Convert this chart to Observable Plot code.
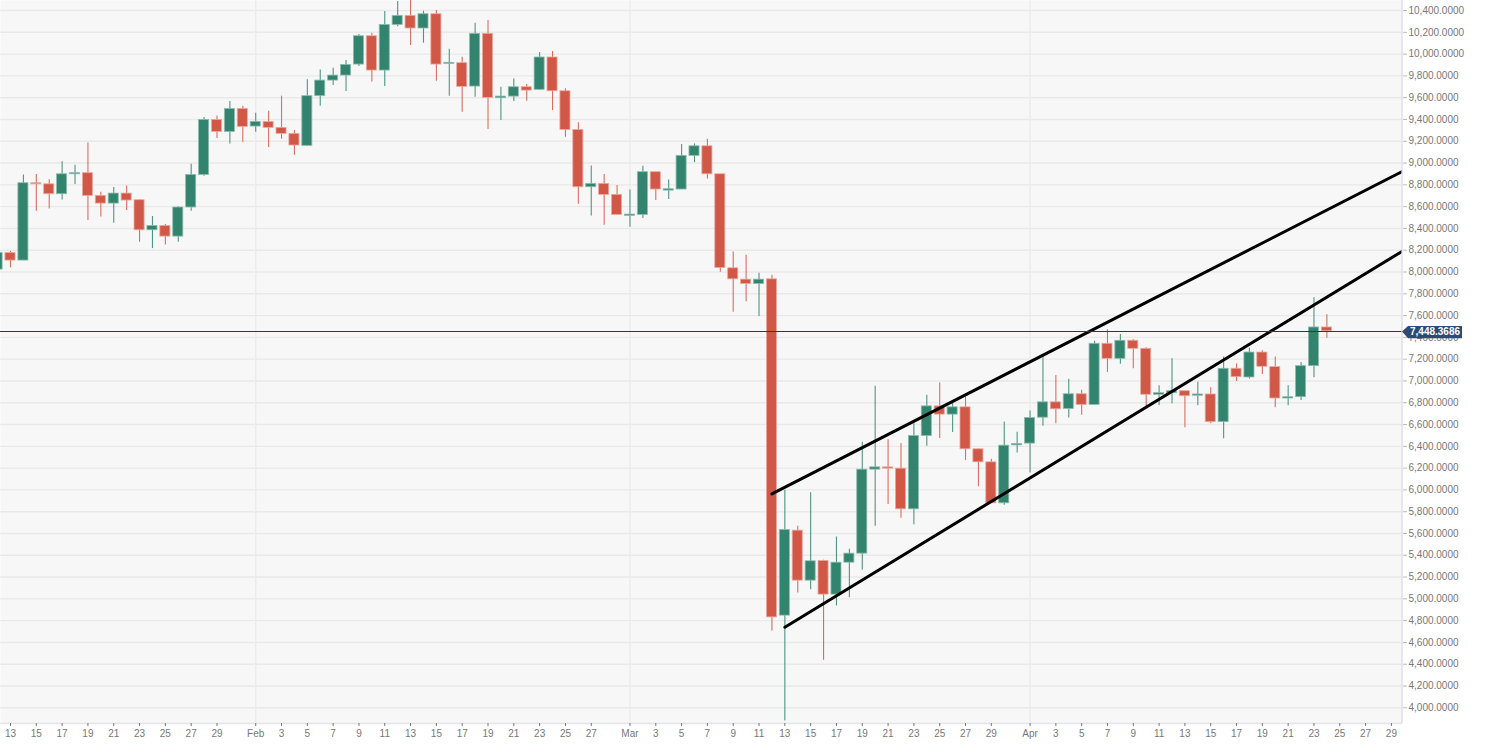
<!DOCTYPE html>
<html>
<head>
<meta charset="utf-8">
<script src="https://cdn.jsdelivr.net/npm/d3@7"></script>
<script src="https://cdn.jsdelivr.net/npm/@observablehq/plot@0.6"></script>
<style>
html,body{margin:0;padding:0;background:#fff}
svg{display:block}
</style>
</head>
<body>
<div id="chart"></div>
<script>
const dates = d3.utcDay.range(new Date(Date.UTC(2020,0,12)), new Date(Date.UTC(2020,3,25)));
const opens = [
8022,8175,8105,8815,8805,8714,8897,8907,8699,8628,8720,8659,8383,8423,8325,8592,8891,9396,9286,9497,
9335,9378,9323,9268,9158,9614,9757,9803,9904,10164,9849,10268,10351,10235,10366,9910,9917,9702,10186,9595,9610,9696,9672,9969,9659,9304,8778,8809,8708,
8515,8524,8916,8747,8757,9066,9154,8897,8034,7930,7890,7933,4846,5626,5167,5348,5039,5332,5415,6186,6207,6195,5822,6495,6767,6691,6758,6373,6253,5877,6409,
6425,6663,6804,6743,6878,6780,7341,7203,7369,7295,6873,6888,6906,6864,6876,6622,7112,7032,7261,7127,6839,6851,7136,7491];
const closes = [
8175,8105,8815,8805,8714,8897,8907,8699,8628,8720,8656,8383,8423,8325,8592,8891,9396,9286,9497,9332,
9378,9323,9268,9161,9614,9757,9803,9901,10164,9849,10268,10351,10235,10366,9904,9920,9699,10186,9598,9610,9696,9665,9969,9659,9304,8778,8809,8708,8524,
8527,8916,8757,8760,9066,9154,8897,8037,7933,7890,7930,4830,5632,5167,5345,5039,5332,5415,6186,6207,6195,5822,6495,6767,6691,6758,6373,6253,5877,6406,6422,
6660,6804,6740,6878,6780,7341,7203,7369,7295,6873,6888,6906,6860,6876,6622,7112,7035,7261,7130,6839,6851,7136,7491,7457];
const highs = [
8175,8190,8891,8894,8846,9011,8980,9185,8732,8775,8790,8665,8509,8435,8598,8989,9418,9433,9565,9522,
9458,9476,9614,9298,9764,9855,9871,9941,10180,10192,10391,10483,10495,10394,10400,10045,9972,10284,10308,9696,9772,9720,10015,10024,9681,9369,8974,8894,8793,
8753,8971,8916,8845,9170,9176,9219,8897,8184,8153,7989,7970,5996,5666,5975,5354,5568,5455,6437,6951,6461,6425,6608,6868,6982,6792,6853,6373,6281,6624,6529,
6725,7243,7049,7015,6914,7365,7470,7427,7378,7304,6955,7203,6906,6989,6937,7219,7157,7301,7277,7219,6955,7170,7763,7607];
const lows = [
8022,8038,8105,8558,8579,8662,8803,8472,8506,8448,8564,8273,8215,8249,8273,8558,8879,9225,9176,9191,
9283,9142,9219,9072,9152,9522,9712,9656,9886,9745,9702,10250,10079,10100,9751,9614,9467,9604,9308,9390,9564,9567,9665,9482,9237,8622,8515,8429,8524,
8411,8490,8656,8665,8757,9004,8854,7998,7630,7728,7591,4705,3879,5054,5084,4436,4935,5011,5262,5666,5865,5739,5681,6400,6471,6526,6269,6030,5877,5859,6339,
6155,6584,6608,6660,6685,6778,7078,7154,7112,6760,6775,6790,6570,6772,6607,6469,6995,7017,7060,6753,6772,6821,7029,7393];

const upperDates = [new Date(Date.UTC(2020,2,12)), new Date(Date.UTC(2020,3,30))];
const upperValues = [5964, 8932];
const lowerDates = [new Date(Date.UTC(2020,2,13)), new Date(Date.UTC(2020,3,30))];
const lowerValues = [4740, 8202];
const lastPrice = 7448.3686;

const yTicks = [4000,4200,4400,4600,4800,5000,5200,5400,5600,5800,6000,6200,6400,6600,6800,7000,7200,7400,7600,7800,8000,8200,8400,8600,8800,9000,9200,9400,9600,9800,10000,10200,10400];
const xTickDates = [
 ...[13,15,17,19,21,23,25,27,29].map(d=>new Date(Date.UTC(2020,0,d))),
 ...[1,3,5,7,9,11,13,15,17,19,21,23,25,27].map(d=>new Date(Date.UTC(2020,1,d))),
 ...[1,3,5,7,9,11,13,15,17,19,21,23,25,27,29].map(d=>new Date(Date.UTC(2020,2,d))),
 ...[1,3,5,7,9,11,13,15,17,19,21,23,25,27,29].map(d=>new Date(Date.UTC(2020,3,d)))
];
const monthStarts = [new Date(Date.UTC(2020,1,1)), new Date(Date.UTC(2020,2,1)), new Date(Date.UTC(2020,3,1))];
const monthNames = ["Jan","Feb","Mar","Apr"];

const GREEN="#33846f", RED="#d15746", GREEN_EDGE="#8dbcae", RED_EDGE="#eba99f";
const candles = dates.map((date,i)=>({date,open:opens[i],close:closes[i],high:highs[i],low:lows[i]}));
const up = d=>d.close>=d.open;
const halfBody = 0.39*864e5;

const chart = Plot.plot({
  width:1489, height:752,
  marginLeft:0, marginRight:87, marginTop:0, marginBottom:29,
  style:{background:"transparent",fontFamily:"'Liberation Sans',Arial,sans-serif",overflow:"hidden"},
  x:{type:"utc",domain:[new Date(Date.UTC(2020,0,12,5,24)),new Date(Date.UTC(2020,3,29,20,38))]},
  y:{domain:[3856,10492]},
  marks:[
    Plot.frame({fill:"#f7f7f7",stroke:null}),
    Plot.ruleY(yTicks,{stroke:"#e9e9e9",strokeWidth:1.4}),
    Plot.ruleX(monthStarts,{stroke:"#ececec",strokeWidth:1.4}),
    Plot.ruleX(candles,{x:"date",y1:"low",y2:"high",stroke:d=>up(d)?GREEN:RED,strokeWidth:1.1,strokeOpacity:0.85,clip:true}),
    Plot.rect(candles,{x1:d=>new Date(+d.date-halfBody),x2:d=>new Date(+d.date+halfBody),y1:"open",y2:"close",
      fill:d=>up(d)?GREEN:RED,stroke:d=>up(d)?GREEN_EDGE:RED_EDGE,strokeWidth:0.8,clip:true}),
    Plot.line(upperDates.map((d,i)=>({d,v:upperValues[i]})),{x:"d",y:"v",stroke:"#000",strokeWidth:3,clip:true}),
    Plot.line(lowerDates.map((d,i)=>({d,v:lowerValues[i]})),{x:"d",y:"v",stroke:"#000",strokeWidth:3,clip:true}),
    Plot.ruleY([lastPrice],{stroke:"#1f3a60",strokeWidth:1,dy:-0.6}),
    Plot.ruleY([3856],{stroke:"#e2e4ee",strokeWidth:1.5}),
    Plot.axisX({ticks:xTickDates,tickSize:3,tickPadding:3,fontSize:10,color:"#777",stroke:"#777",label:null,
      tickFormat:d=>d.getUTCDate()===1?monthNames[d.getUTCMonth()]:String(d.getUTCDate())}),
    Plot.axisY({anchor:"right",ticks:yTicks,tickSize:4,tickPadding:2,fontSize:10,color:"#777",stroke:"#bbb",label:null,
      tickFormat:d3.format(",.4f")}),
    (index,{x,y},values,dims)=>{
      const right=dims.width-dims.marginRight, py=y(lastPrice);
      const g=d3.create("svg:g");
      g.append("line").attr("x1",right).attr("x2",right).attr("y1",dims.marginTop).attr("y2",dims.height-dims.marginBottom)
        .attr("stroke","#d8deea").attr("stroke-width",1.3);
      g.append("path").attr("d",`M${right},${py}L${right+6},${py-5.7}H${right+60}V${py+6.6}H${right+6}Z`).attr("fill","#2c4a74");
      g.append("text").attr("x",right+8).attr("y",py).attr("dy","0.35em").attr("fill","#fff").attr("text-anchor","start")
        .attr("font-size",10).attr("font-weight","bold").text(d3.format(",.4f")(lastPrice));
      return g.node();
    }
  ]
});
document.getElementById("chart").append(chart);
</script>
</body>
</html>
